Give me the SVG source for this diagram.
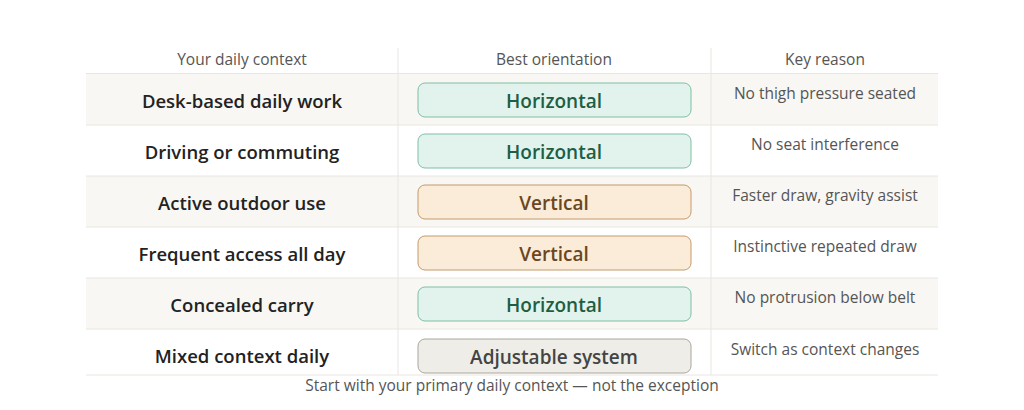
<svg xmlns="http://www.w3.org/2000/svg" width="1024" height="410" viewBox="0 0 1024 410">
<style>
text{font-family:"Open Sans","Noto Sans",sans-serif}
.h{font-size:15.5px;fill:#555;text-anchor:middle}
.c{font-size:18.5px;font-weight:600;fill:#222;text-anchor:middle}
.r{font-size:15.5px;fill:#555;text-anchor:middle}
.p{font-size:19px;font-weight:600;text-anchor:middle}
.g rect{fill:#e1f3ec;stroke:#7fbfa5}.g text{fill:#1d5e45}
.o rect{fill:#faecd9;stroke:#c49a6a}.o text{fill:#6b4620}
.n rect{fill:#efede7;stroke:#a9a69d}.n text{fill:#444}
.sh{fill:#f8f7f3}
.ln{stroke:#e8e6e1;stroke-width:1}
</style>
<rect width="1024" height="410" fill="#fff"/>
<g id="grid">
<rect class="sh" x="86" y="74" width="852" height="51"/>
<rect class="sh" x="86" y="176" width="852" height="51"/>
<rect class="sh" x="86" y="278" width="852" height="51"/>
<line class="ln" x1="398" y1="48" x2="398" y2="375"/>
<line class="ln" x1="711" y1="48" x2="711" y2="375"/>
<line class="ln" x1="86" y1="73.5" x2="938" y2="73.5" stroke-width="2"/>
<line class="ln" x1="86" y1="125" x2="938" y2="125"/>
<line class="ln" x1="86" y1="176" x2="938" y2="176"/>
<line class="ln" x1="86" y1="227" x2="938" y2="227"/>
<line class="ln" x1="86" y1="278" x2="938" y2="278"/>
<line class="ln" x1="86" y1="329" x2="938" y2="329"/>
<line class="ln" x1="86" y1="375" x2="938" y2="375"/>
</g>
<g id="header">
<text class="h" x="242" y="65">Your daily context</text>
<text class="h" x="554" y="65">Best orientation</text>
<text class="h" x="825" y="65">Key reason</text>
</g>
<g id="row1"><text class="c" x="242" y="108">Desk-based daily work</text>
<g class="g"><rect x="418" y="83" width="273" height="34" rx="7"/><text class="p" x="554" y="108">Horizontal</text></g>
<text class="r" x="825" y="99">No thigh pressure seated</text></g>
<g id="row2"><text class="c" x="242" y="159">Driving or commuting</text>
<g class="g"><rect x="418" y="134" width="273" height="34" rx="7"/><text class="p" x="554" y="159">Horizontal</text></g>
<text class="r" x="825" y="150">No seat interference</text></g>
<g id="row3"><text class="c" x="242" y="210">Active outdoor use</text>
<g class="o"><rect x="418" y="185" width="273" height="34" rx="7"/><text class="p" x="554" y="210">Vertical</text></g>
<text class="r" x="825" y="201">Faster draw, gravity assist</text></g>
<g id="row4"><text class="c" x="242" y="261">Frequent access all day</text>
<g class="o"><rect x="418" y="236" width="273" height="34" rx="7"/><text class="p" x="554" y="261">Vertical</text></g>
<text class="r" x="825" y="252">Instinctive repeated draw</text></g>
<g id="row5"><text class="c" x="242" y="312">Concealed carry</text>
<g class="g"><rect x="418" y="287" width="273" height="34" rx="7"/><text class="p" x="554" y="312">Horizontal</text></g>
<text class="r" x="825" y="303">No protrusion below belt</text></g>
<g id="row6"><text class="c" x="242" y="363">Mixed context daily</text>
<g class="n"><rect x="418" y="339" width="273" height="34" rx="7"/><text class="p" x="554" y="364">Adjustable system</text></g>
<text class="r" x="825" y="355">Switch as context changes</text></g>
<text id="footer" class="r" x="512" y="391">Start with your primary daily context — not the exception</text>
</svg>
